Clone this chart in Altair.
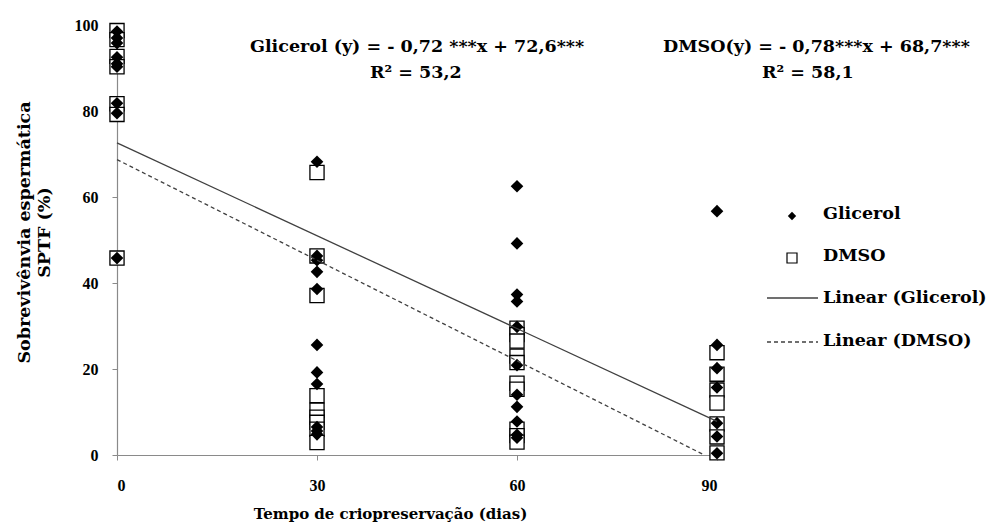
import altair as alt
import pandas as pd

# ---- data ----
glic_x = [0]*9 + [30]*11 + [60]*11 + [90]*7
glic_y = [98.5, 97.0, 95.8, 92.5, 91.0, 90.3, 81.8, 79.5, 45.8,
          68.2, 46.3, 45.3, 42.6, 38.6, 25.6, 19.2, 16.5, 6.5, 5.6, 4.8,
          62.5, 49.2, 37.3, 35.7, 29.8, 20.9, 14.0, 11.2, 7.8, 4.7, 4.0,
          56.7, 25.6, 20.2, 15.7, 7.4, 4.3, 0.4]

dmso_x = [0]*7 + [30]*9 + [60]*10 + [90]*7
dmso_y = [98.7, 96.6, 92.7, 90.3, 81.7, 79.2, 45.8,
          65.7, 46.3, 37.1, 13.8, 10.4, 8.8, 7.6, 6.0, 2.9,
          29.5, 28.0, 26.5, 23.0, 21.5, 16.7, 15.3, 6.0, 4.5, 3.0,
          23.8, 18.8, 15.1, 12.1, 7.2, 4.2, 0.5]

# regression lines (from the equations printed on the chart)
lin_g_x = [0, 90]
lin_g_y = [72.6, 7.8]
lin_d_x = [0, 88.1]
lin_d_y = [68.7, 0]

x_ticks = [0, 30, 60, 90]
y_ticks = [0, 20, 40, 60, 80, 100]

eq_texts = ["Glicerol (y) = - 0,72 ***x + 72,6***", "R² = 53,2",
            "DMSO(y)  = - 0,78***x + 68,7***", "R² = 58,1"]
legend_texts = ["Glicerol", "DMSO", "Linear (Glicerol)", "Linear (DMSO)"]

FONT = "DejaVu Serif"
TICKFONT = "Liberation Serif"

df_g = pd.DataFrame({"dias": glic_x, "v": glic_y})
df_d = pd.DataFrame({"dias": dmso_x, "v": dmso_y})
df_lg = pd.DataFrame({"dias": lin_g_x, "v": lin_g_y})
df_ld = pd.DataFrame({"dias": lin_d_x, "v": lin_d_y})
one = pd.DataFrame({"a": [0]})

xs = alt.Scale(domain=[0, 90], nice=False, zero=False)
ys = alt.Scale(domain=[0, 100], nice=False)

X = alt.X("dias:Q", scale=xs,
          axis=alt.Axis(values=x_ticks, grid=False, title="Tempo de criopreservação  (dias)",
                        titleX=273, titleY=58, titleBaseline="middle", titleFontSize=15,
                        labelPadding=17, format="d"))
Y = alt.Y("v:Q", scale=ys,
          axis=alt.Axis(values=y_ticks, grid=False,
                        title=["Sobrevivênvia espermática", "SPTF (%)"],
                        titleX=-93, titleY=207, titleBaseline="middle", titleFontSize=17.5,
                        titleLineHeight=20, labelPadding=14, format="d"))

squares = alt.Chart(df_d).mark_point(shape="square", filled=True, fill="white",
                                     stroke="black", strokeWidth=1.3, size=200,
                                     opacity=1).encode(x=X, y=Y)
diamonds = alt.Chart(df_g).mark_point(shape="diamond", filled=True, color="black",
                                      size=160, opacity=1).encode(x=X, y=Y)
line_g = alt.Chart(df_lg).mark_line(color="#404040", strokeWidth=1.3).encode(x=X, y=Y)
line_d = alt.Chart(df_ld).mark_line(color="#404040", strokeWidth=1.3,
                                    strokeDash=[4, 3]).encode(x=X, y=Y)

def txt(s, px, py, size=17.5):
    return alt.Chart(one).mark_text(text=s, font=FONT, fontWeight="bold", fontSize=size,
                                    align="left", baseline="middle", color="black").encode(
        x=alt.value(px), y=alt.value(py))

texts = [
    txt(eq_texts[0], 133, 22),
    txt(eq_texts[1], 253, 48),
    txt(eq_texts[2], 546, 22),
    txt(eq_texts[3], 645, 48),
    txt(legend_texts[0], 706, 189),
    txt(legend_texts[1], 706, 231),
    txt(legend_texts[2], 706, 273),
    txt(legend_texts[3], 706, 316),
]

leg_diamond = alt.Chart(one).mark_point(shape="diamond", filled=True, color="black",
                                        size=70, opacity=1).encode(
    x=alt.value(675), y=alt.value(191))
leg_square = alt.Chart(one).mark_point(shape="square", filled=True, fill="white",
                                       stroke="black", strokeWidth=1.2, size=100,
                                       opacity=1).encode(
    x=alt.value(675), y=alt.value(233))
leg_line_g = alt.Chart(one).mark_rule(color="#404040", strokeWidth=1.3).encode(
    x=alt.value(650), x2=alt.value(701), y=alt.value(273))
leg_line_d = alt.Chart(one).mark_rule(color="#404040", strokeWidth=1.3,
                                      strokeDash=[4, 3]).encode(
    x=alt.value(650), x2=alt.value(701), y=alt.value(317))

chart = alt.layer(squares, diamonds, line_g, line_d, leg_diamond, leg_square,
                  leg_line_g, leg_line_d, *texts).properties(
    width=600, height=430,
    padding={"left": 117, "top": 25, "right": 272, "bottom": 72},
    autosize=alt.AutoSizeParams(type="none"),
    background="white",
).configure_view(stroke=None).configure_axis(
    labelFont=TICKFONT, labelFontWeight="bold", labelFontSize=16, labelColor="black",
    titleFont=FONT, titleFontWeight="bold", titleColor="black",
    domainColor="#8a8a8a", tickColor="#8a8a8a", tickSize=5, domainWidth=1.2,
)

chart.save("out.html", embed_options={"renderer": "svg", "actions": False})
